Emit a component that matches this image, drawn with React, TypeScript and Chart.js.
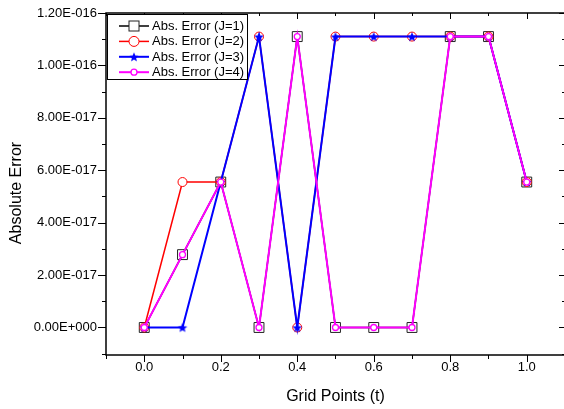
import { useEffect, useRef } from "react";
import { Chart, registerables } from "chart.js";

Chart.register(...registerables);

const gridPoints = [0, 0.1, 0.2, 0.3, 0.4, 0.5, 0.6, 0.7, 0.8, 0.9, 1.0];
const errJ1 = [0, 2.78e-17, 5.55e-17, 0, 1.11e-16, 0, 0, 0, 1.11e-16, 1.11e-16, 5.55e-17];
const errJ2 = [0, 5.55e-17, 5.55e-17, 1.11e-16, 0, 1.11e-16, 1.11e-16, 1.11e-16, 1.11e-16, 1.11e-16, 5.55e-17];
const errJ3 = [0, 0, 5.55e-17, 1.11e-16, 0, 1.11e-16, 1.11e-16, 1.11e-16, 1.11e-16, 1.11e-16, 5.55e-17];
const errJ4 = [0, 2.78e-17, 5.55e-17, 0, 1.11e-16, 0, 0, 0, 1.11e-16, 1.11e-16, 5.55e-17];
const seriesLabels = ["Abs. Error (J=1)", "Abs. Error (J=2)", "Abs. Error (J=3)", "Abs. Error (J=4)"];
const xMajorTicks = [0, 0.2, 0.4, 0.6, 0.8, 1.0];
const xMinorTicks = [-0.1, 0.1, 0.3, 0.5, 0.7, 0.9, 1.1];
const yMajorTicks = [0, 2e-17, 4e-17, 6e-17, 8e-17, 1e-16, 1.2e-16];
const yMinorTicks = [-1e-17, 1e-17, 3e-17, 5e-17, 7e-17, 9e-17, 1.1e-16];
const xTitle = "Grid Points (t)";
const yTitle = "Absolute Error";

const FONT = "'Liberation Sans', Arial, Helvetica, sans-serif";

function sci(v: number): string {
  if (Math.abs(v) < 1e-30) return "0.00E+000";
  let e = Math.floor(Math.log10(Math.abs(v)));
  let m = v / Math.pow(10, e);
  if (Math.abs(m) >= 9.995) {
    m /= 10;
    e += 1;
  }
  return m.toFixed(2) + "E" + (e < 0 ? "-" : "+") + String(Math.abs(e)).padStart(3, "0");
}

function makeStar(r: number, color: string): HTMLCanvasElement {
  const c = document.createElement("canvas");
  const s = Math.ceil(r * 2 + 2);
  c.width = s;
  c.height = s;
  const ctx = c.getContext("2d")!;
  ctx.beginPath();
  for (let i = 0; i < 10; i++) {
    const rad = i % 2 === 0 ? r : r * 0.45;
    const a = -Math.PI / 2 + (i * Math.PI) / 5;
    ctx.lineTo(s / 2 + rad * Math.cos(a), s / 2 + rad * Math.sin(a) + 0.5);
  }
  ctx.closePath();
  ctx.fillStyle = color;
  ctx.fill();
  return c;
}

export default function App() {
  const ref = useRef<HTMLCanvasElement | null>(null);

  useEffect(() => {
    const canvas = ref.current;
    if (!canvas) return;
    const star = makeStar(5, "#0000FF");
    const styles = [
      { color: "#000000", pointStyle: "rect", radius: 7, borderColor: "#222222", fill: "rgba(255,255,255,0)", pbw: 1, lw: 1.5 },
      { color: "#FF0000", pointStyle: "circle", radius: 4.5, borderColor: "#FF0000", fill: "#FFFFFF", pbw: 1, lw: 1.5 },
      { color: "#0000FF", pointStyle: star as any, radius: 5, borderColor: "#0000FF", fill: "#0000FF", pbw: 1, lw: 2 },
      { color: "#FF00FF", pointStyle: "circle", radius: 3, borderColor: "#FF00FF", fill: "#FFFFFF", pbw: 1.3, lw: 2 },
    ];
    const series = [errJ1, errJ2, errJ3, errJ4];

    const framePlugin = {
      id: "frameTicks",
      afterDatasetsDraw(chart: any) {
        const { ctx, chartArea, scales } = chart;
        const { left, right, top, bottom } = chartArea;
        const x = scales.x;
        const y = scales.y;
        ctx.save();
        ctx.strokeStyle = "#000";
        ctx.lineWidth = 1;
        const line = (x1: number, y1: number, x2: number, y2: number) => {
          ctx.beginPath();
          ctx.moveTo(x1, y1);
          ctx.lineTo(x2, y2);
          ctx.stroke();
        };
        xMajorTicks.forEach((v) => {
          const p = Math.round(x.getPixelForValue(v)) + 0.5;
          line(p, bottom, p, bottom + 7);
          line(p, top, p, top + 6);
        });
        xMinorTicks.forEach((v) => {
          const p = Math.round(x.getPixelForValue(v)) + 0.5;
          line(p, bottom, p, bottom + 4);
          line(p, top, p, top + 3);
        });
        yMajorTicks.forEach((v) => {
          const p = Math.round(y.getPixelForValue(v)) + 0.5;
          line(left - 8, p, left, p);
          line(right - 6, p, right, p);
        });
        yMinorTicks.forEach((v) => {
          const p = Math.round(y.getPixelForValue(v)) + 0.5;
          line(left - 4, p, left, p);
          line(right - 3, p, right, p);
        });
        ctx.lineWidth = 1.5;
        ctx.strokeRect(left, top, right - left, bottom - top);
        ctx.restore();
      },
      afterDraw(chart: any) {
        const { ctx } = chart;
        ctx.save();
        ctx.fillStyle = "#000";
        ctx.font = `16px ${FONT}`;
        ctx.textAlign = "center";
        ctx.textBaseline = "middle";
        ctx.translate(17, 193);
        ctx.rotate(-Math.PI / 2);
        ctx.fillText(yTitle, 0, 0);
        ctx.restore();

        ctx.save();
        const bx = 107.5, by = 14.5, bw = 140, bh = 65;
        ctx.fillStyle = "#FFFFFF";
        ctx.fillRect(bx, by, bw, bh);
        ctx.strokeStyle = "#000";
        ctx.lineWidth = 1;
        ctx.strokeRect(bx, by, bw, bh);
        ctx.font = `13px ${FONT}`;
        ctx.textBaseline = "middle";
        ctx.textAlign = "left";
        seriesLabels.forEach((label, i) => {
          const st = styles[i];
          const yy = 26 + i * 15.4;
          ctx.strokeStyle = st.color;
          ctx.lineWidth = st.lw;
          ctx.beginPath();
          ctx.moveTo(119, yy);
          ctx.lineTo(149, yy);
          ctx.stroke();
          const cx = 134;
          if (i === 0) {
            ctx.fillStyle = "#FFFFFF";
            ctx.fillRect(cx - 5, yy - 5, 10, 10);
            ctx.strokeStyle = st.borderColor;
            ctx.lineWidth = 1;
            ctx.strokeRect(cx - 5, yy - 5, 10, 10);
          } else if (i === 2) {
            ctx.drawImage(star, cx - star.width / 2, yy - star.height / 2);
          } else {
            ctx.beginPath();
            ctx.arc(cx, yy, i === 1 ? 5 : 3, 0, Math.PI * 2);
            ctx.fillStyle = "#FFFFFF";
            ctx.fill();
            ctx.strokeStyle = st.borderColor;
            ctx.lineWidth = st.pbw;
            ctx.stroke();
          }
          ctx.fillStyle = "#000";
          ctx.fillText(label, 152, yy + 0.5);
        });
        ctx.restore();
      },
    };

    const makeConfig = () =>
      ({
        type: "line",
        data: {
          datasets: series.map((arr, i) => ({
            label: seriesLabels[i],
            data: gridPoints.map((t, k) => ({ x: t, y: arr[k] })),
            borderColor: styles[i].color,
            borderWidth: styles[i].lw,
            pointStyle: styles[i].pointStyle,
            pointRadius: styles[i].radius,
            pointBorderColor: styles[i].borderColor,
            pointBackgroundColor: styles[i].fill,
            pointBorderWidth: styles[i].pbw,
            fill: false,
            tension: 0,
            order: 4 - i,
            clip: 10,
          })),
        },
        options: {
          responsive: false,
          animation: false,
          devicePixelRatio: 1,
          layout: { padding: { top: 13, right: 3, left: 0, bottom: 0 } },
          plugins: { legend: { display: false }, tooltip: { enabled: false } },
          scales: {
            x: {
              type: "linear",
              min: -0.1,
              max: 1.1,
              grid: { display: false, drawTicks: false },
              border: { display: false },
              afterBuildTicks: (scale: any) => {
                scale.ticks = xMajorTicks.map((v) => ({ value: v }));
              },
              afterFit: (scale: any) => {
                scale.height = 54;
                scale.paddingLeft = 0;
                scale.paddingRight = 0;
              },
              ticks: {
                padding: 5,
                color: "#000",
                font: { family: FONT, size: 13 },
                callback: (v: any) => Number(v).toFixed(1),
                maxRotation: 0,
              },
              title: {
                display: true,
                text: xTitle,
                color: "#000",
                font: { family: FONT, size: 16 },
                padding: { top: 0, bottom: 3 },
              },
            },
            y: {
              type: "linear",
              min: -1.05e-17,
              max: 1.2e-16,
              grid: { display: false, drawTicks: false },
              border: { display: false },
              afterBuildTicks: (scale: any) => {
                scale.ticks = yMajorTicks.map((v) => ({ value: v }));
              },
              afterFit: (scale: any) => {
                scale.width = 106;
                scale.paddingTop = 0;
                scale.paddingBottom = 0;
              },
              ticks: {
                padding: 9,
                color: "#000",
                font: { family: FONT, size: 13 },
                callback: (v: any) => sci(Number(v)),
              },
            },
          },
        },
        plugins: [framePlugin],
      }) as any;

    const baseWidth = 568;
    canvas.width = baseWidth;
    canvas.height = 409;
    let chart = new Chart(canvas, makeConfig());
    const diff = Math.round(565 - chart.chartArea.right);
    if (diff !== 0) {
      chart.destroy();
      canvas.width = baseWidth + diff;
      canvas.height = 409;
      canvas.style.width = `${baseWidth + diff}px`;
      canvas.style.height = "409px";
      chart = new Chart(canvas, makeConfig());
    }

    return () => chart.destroy();
  }, []);

  return (
    <div style={{ position: "fixed", left: 0, top: 0, width: 564, height: 409, overflow: "hidden", background: "#fff" }}>
      <canvas ref={ref} width={568} height={409} style={{ display: "block" }} />
    </div>
  );
}
